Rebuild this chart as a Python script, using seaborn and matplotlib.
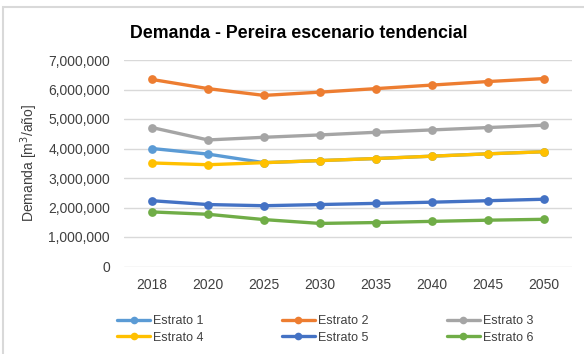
import matplotlib
matplotlib.use("Agg")
import matplotlib.pyplot as plt
from matplotlib.patches import Rectangle
from matplotlib.lines import Line2D
from matplotlib.ticker import FuncFormatter
import seaborn as sns
import pandas as pd

years = ["2018", "2020", "2025", "2030", "2035", "2040", "2045", "2050"]
series_names = ["Estrato 1", "Estrato 2", "Estrato 3", "Estrato 4", "Estrato 5", "Estrato 6"]
estrato_1 = [4000000, 3810000, 3520000, 3590000, 3660000, 3740000, 3820000, 3890000]
estrato_2 = [6340000, 6030000, 5800000, 5910000, 6030000, 6150000, 6270000, 6370000]
estrato_3 = [4710000, 4290000, 4380000, 4460000, 4550000, 4630000, 4710000, 4790000]
estrato_4 = [3510000, 3450000, 3520000, 3590000, 3660000, 3740000, 3820000, 3890000]
estrato_5 = [2230000, 2100000, 2060000, 2100000, 2140000, 2180000, 2230000, 2280000]
estrato_6 = [1850000, 1770000, 1590000, 1460000, 1490000, 1530000, 1570000, 1600000]
colors = ["#5B9BD5", "#ED7D31", "#A5A5A5", "#FFC000", "#4472C4", "#70AD47"]

values = [estrato_1, estrato_2, estrato_3, estrato_4, estrato_5, estrato_6]
df = pd.DataFrame(
    [(y, name, v) for name, vals in zip(series_names, values) for y, v in zip(years, vals)],
    columns=["Año", "Estrato", "Demanda"],
)

sns.set_style("white")
plt.rcParams["font.family"] = ["Liberation Sans", "DejaVu Sans"]

fig = plt.figure(figsize=(5.84, 3.54), dpi=100)
left, right, top, bottom = 124, 572, 60, 266.5
ax = fig.add_axes([left / 584, 1 - bottom / 354, (right - left) / 584, (bottom - top) / 354])

sns.lineplot(
    data=df, x="Año", y="Demanda", hue="Estrato", hue_order=series_names,
    palette=colors, marker="o", markersize=6.3, markeredgewidth=0,
    linewidth=2.4, sort=False, legend=False, ax=ax,
)

ax.set_xlim(-0.5, len(years) - 0.5)
ax.set_ylim(0, 7000000)
ax.set_yticks(range(0, 7000001, 1000000))
ax.yaxis.set_major_formatter(FuncFormatter(lambda v, p: f"{int(v):,}"))
ax.grid(axis="y", color="#D9D9D9", linewidth=1.0)
ax.grid(axis="x", visible=False)
for s in ax.spines.values():
    s.set_visible(False)
ax.tick_params(axis="both", length=0, labelsize=10, colors="#404040")
ax.tick_params(axis="y", pad=10)
ax.tick_params(axis="x", pad=8)
ax.set_xlabel("")
ax.set_ylabel("Demanda [m$^3$/año]", fontsize=10, color="#404040")
ax.yaxis.set_label_coords(-(left - 40) / (right - left), 0.5)

fig.text(299 / 584, 1 - 34 / 354, "Demanda - Pereira escenario tendencial",
         ha="center", va="center", fontsize=12.8, fontweight="bold", color="#000000")

handles = [Line2D([0], [0], color=c, linewidth=2.4, marker="o", markersize=5.5,
                  markeredgewidth=0) for c in colors]
order = [0, 3, 1, 4, 2, 5]
fig.legend([handles[i] for i in order], [series_names[i] for i in order],
           ncol=3, loc="upper left", bbox_to_anchor=(106 / 584, 1 - 304 / 354),
           frameon=False, fontsize=9, handlelength=2.6, handletextpad=0.25,
           columnspacing=6.3, labelspacing=0.35, labelcolor="#404040")

fig.patches.append(Rectangle((3 / 584, -0.05), 1.1, 1 - 7 / 354 + 0.05,
                             transform=fig.transFigure, fill=False,
                             edgecolor="#D9D9D9", linewidth=1.5))

fig.savefig("out.png", dpi=100, facecolor="white")
